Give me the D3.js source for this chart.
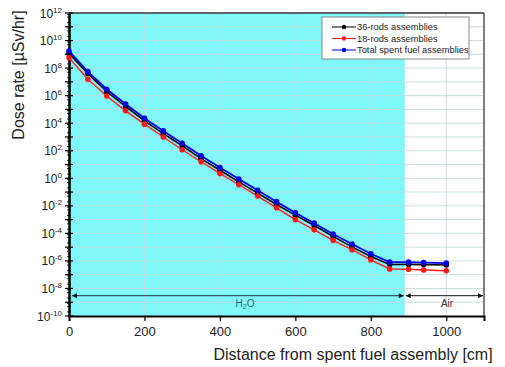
<!DOCTYPE html>
<html><head><meta charset="utf-8">
<script src="https://cdn.jsdelivr.net/npm/d3@7/dist/d3.min.js"></script>
<style>body{margin:0;background:#fff}svg{display:block}</style>
</head><body><svg id="c" width="505" height="367"></svg>
<script>
const distances = [0,50,100,150,200,250,300,350,400,450,500,550,600,650,700,750,800,850,900,940,1000];
const rods36 = [1.17e9,4.0e7,1.95e6,1.66e5,1.48e4,1.74e3,229,26.9,3.8,0.55,0.083,0.0126,2.1e-3,3.7e-4,6.0e-5,1.05e-5,2.1e-6,5.5e-7,5.6e-7,5.4e-7,5.0e-7];
const rods18 = [5.75e8,1.55e7,9.5e5,7.9e4,8.5e3,1.0e3,117,15.8,2.24,0.34,0.051,7.2e-3,1.0e-3,1.8e-4,3.1e-5,6.5e-6,1.2e-6,2.6e-7,2.5e-7,2.2e-7,1.95e-7];
const total = [1.74e9,5.5e7,2.9e6,2.45e5,2.3e4,2.75e3,347,42.7,6.0,0.89,0.135,0.02,3.1e-3,5.5e-4,9.1e-5,1.7e-5,3.3e-6,8.1e-7,8.1e-7,7.6e-7,6.9e-7];
const xTicks = [0,200,400,600,800,1000];
const yTickExps = [12,10,8,6,4,2,0,-2,-4,-6,-8,-10];
const waterBoundary = 890;
const seriesNames = ["36-rods assemblies","18-rods assemblies","Total spent fuel assemblies"];
const seriesColors = ["#000000","#ff1a1a","#0000e6"];

const svg = d3.select("#c");
const L = 69, R = 484, T = 13, B = 316;
const FONT = "Arial, Liberation Sans, sans-serif";
const x = d3.scaleLinear().domain([0,1100]).range([L,R]);
const y = d3.scaleLog().domain([1e-10,1e12]).range([B,T]);

// background
svg.append("rect").attr("x",L).attr("y",T).attr("width",R-L).attr("height",B-T).attr("fill","#fff");
svg.append("rect").attr("x",L).attr("y",T).attr("width",x(waterBoundary)-L).attr("height",B-T).attr("fill","#80f8fa");

// grid
const g = svg.append("g");
for (let e=-9;e<=11;e++) g.append("line").attr("x1",L).attr("x2",R).attr("y1",y(Math.pow(10,e))).attr("y2",y(Math.pow(10,e))).attr("stroke","#c2dada").attr("stroke-width",0.9);
[200,400,600,800,1000].forEach(v=>g.append("line").attr("x1",x(v)).attr("x2",x(v)).attr("y1",T).attr("y2",B).attr("stroke","#c2dada").attr("stroke-width",0.9));

// frame
svg.append("line").attr("x1",L).attr("x2",R).attr("y1",T).attr("y2",T).attr("stroke","#333").attr("stroke-width",1.5);
svg.append("line").attr("x1",R).attr("x2",R).attr("y1",T).attr("y2",B).attr("stroke","#555").attr("stroke-width",1.5);

// x axis
const xAxis = d3.axisBottom(x).tickValues(xTicks).tickSize(5).tickFormat(d3.format("d"));
const xg = svg.append("g").attr("transform",`translate(0,${B})`).call(xAxis);
xg.select(".domain").attr("stroke","#000").attr("stroke-width",2);
xg.selectAll(".tick line").attr("stroke","#000").attr("stroke-width",1.2);
xg.selectAll(".tick text").attr("font-family",FONT).attr("font-size",13).attr("fill","#222").attr("dy","0.95em");

// y axis
const yAxis = d3.axisLeft(y).tickValues(yTickExps.map(e=>Math.pow(10,e))).tickSize(0).tickFormat("");
const yg = svg.append("g").attr("transform",`translate(${L},0)`).call(yAxis);
yg.select(".domain").attr("stroke","#000").attr("stroke-width",2.5);
for (let e=-10;e<=12;e++){
  const yy = y(Math.pow(10,e));
  svg.append("line").attr("x1",L-4).attr("x2",L+4).attr("y1",yy).attr("y2",yy).attr("stroke","#000").attr("stroke-width",1.2);
  if (e<12) for (let m=2;m<10;m+=3){
    const ym = y(m*Math.pow(10,e));
    svg.append("line").attr("x1",L-2).attr("x2",L+2).attr("y1",ym).attr("y2",ym).attr("stroke","#000").attr("stroke-width",0.8);
  }
}
yTickExps.forEach(e=>{
  const t = svg.append("text").attr("x",L-7).attr("y",y(Math.pow(10,e))+4.5).attr("text-anchor","end")
    .attr("font-family",FONT).attr("font-size",12).attr("fill","#222");
  t.append("tspan").text("10");
  t.append("tspan").attr("font-size",8).attr("dy",-5).text(String(e));
});

// titles
svg.append("text").attr("x",353).attr("y",360).attr("text-anchor","middle").attr("font-family",FONT).attr("font-size",16).attr("fill","#222").text("Distance from spent fuel assembly [cm]");
svg.append("text").attr("transform",`translate(24,75) rotate(-90)`).attr("text-anchor","middle").attr("font-family",FONT).attr("font-size",16).attr("fill","#222").text("Dose rate [\u00b5Sv/hr]");

// arrows
const defs = svg.append("defs");
defs.append("marker").attr("id","ah").attr("viewBox","0 0 10 10").attr("refX",10).attr("refY",5).attr("markerWidth",7).attr("markerHeight",5).attr("orient","auto-start-reverse").attr("markerUnits","userSpaceOnUse")
  .append("path").attr("d","M0,0L10,5L0,10Z").attr("fill","#111");
const ay = 295.7;
svg.append("line").attr("x1",x(0)+3).attr("x2",x(waterBoundary)-1).attr("y1",ay).attr("y2",ay).attr("stroke","#1a3a3a").attr("stroke-width",1).attr("marker-start","url(#ah)").attr("marker-end","url(#ah)");
svg.append("line").attr("x1",x(waterBoundary)+1).attr("x2",R-1).attr("y1",ay).attr("y2",ay).attr("stroke","#111").attr("stroke-width",1).attr("marker-start","url(#ah)").attr("marker-end","url(#ah)");
const h = svg.append("text").attr("x",245).attr("y",307).attr("text-anchor","middle").attr("font-family",FONT).attr("font-size",10).attr("fill","#1d6b70");
h.append("tspan").text("H");h.append("tspan").attr("font-size",7).attr("dy",2).text("2");h.append("tspan").attr("dy",-2).text("O");
svg.append("text").attr("x",447).attr("y",307).attr("text-anchor","middle").attr("font-family",FONT).attr("font-size",10).attr("fill","#333").text("Air");

// series
const data = [rods36, rods18, total];
const line = d3.line().x((d,i)=>x(distances[i])).y(d=>y(d));
const widths = [1.6,1.4,1.8];
data.forEach((s,k)=>{
  svg.append("path").datum(s).attr("d",line).attr("fill","none").attr("stroke",seriesColors[k]).attr("stroke-width",widths[k]);
});
data.forEach((s,k)=>{
  svg.append("g").selectAll("circle").data(s).join("circle").attr("cx",(d,i)=>x(distances[i])).attr("cy",d=>y(d)).attr("r",2.8).attr("fill",seriesColors[k]);
});

// legend
const lg = svg.append("g");
lg.append("rect").attr("x",322).attr("y",17).attr("width",147).attr("height",42).attr("fill","#fff").attr("stroke","#888").attr("stroke-width",1);
seriesNames.forEach((n,k)=>{
  const yy = 27 + k*11.5;
  lg.append("line").attr("x1",332).attr("x2",356).attr("y1",yy).attr("y2",yy).attr("stroke",seriesColors[k]).attr("stroke-width",1);
  lg.append("circle").attr("cx",344).attr("cy",yy).attr("r",2.2).attr("fill",seriesColors[k]);
  lg.append("text").attr("x",357).attr("y",yy+3.3).attr("font-family",FONT).attr("font-size",9.3).attr("fill","#222").text(n);
});
</script></body></html>
